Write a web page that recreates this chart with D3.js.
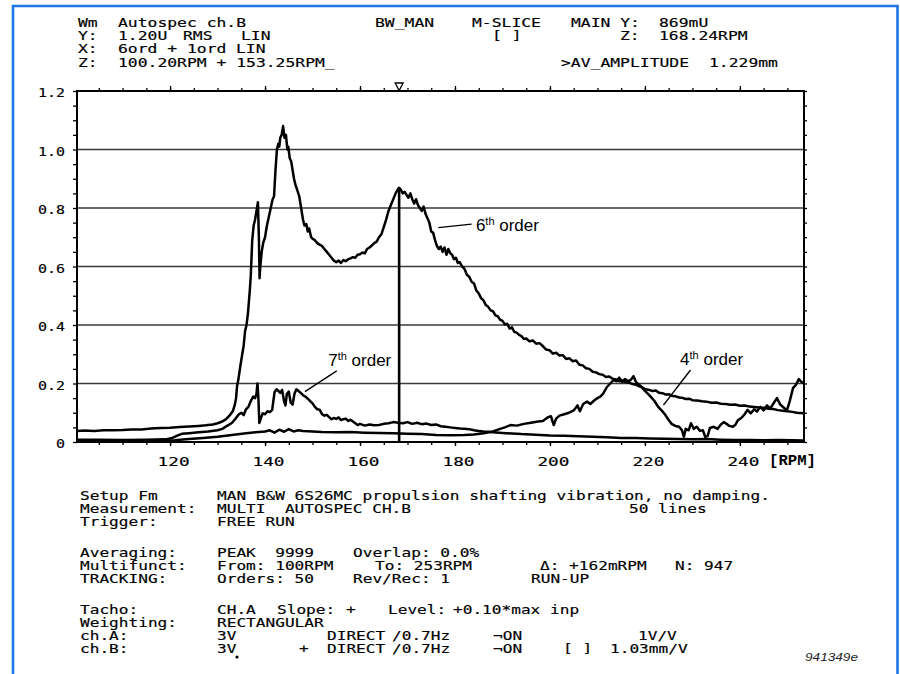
<!DOCTYPE html>
<html>
<head>
<meta charset="utf-8">
<script src="https://cdn.jsdelivr.net/npm/d3@7"></script>
<style>
  html, body { margin: 0; padding: 0; background: #fff; }
  svg { display: block; }
  .mono { font-family: 'DejaVu Sans Mono', monospace; fill: #000; stroke: #000; stroke-width: 0.15; white-space: pre; }
  .lbl { font-family: 'Liberation Sans', Arial, sans-serif; fill: #000; }
</style>
</head>
<body>
<svg id="chart" width="900" height="674"></svg>
<script>
/* DATA: [RPM, amplitude] */
const order6 = [
  [100.4,0.038],[102,0.039],[104,0.038],[106,0.040],[108,0.040],[110,0.041],[112,0.043],[114,0.043],
  [116,0.046],[118,0.048],[120,0.049],[122,0.051],[124,0.053],[126,0.055],[127.5,0.057],[129,0.060],
  [130,0.064],[131,0.070],[131.8,0.078],[132.5,0.090],[133.2,0.105],[133.6,0.125],[133.9,0.150],
  [134.1,0.190],[134.4,0.215],[134.8,0.260],[135.2,0.300],[135.5,0.330],[135.8,0.380],[136.1,0.400],
  [136.4,0.440],[136.8,0.520],[137.0,0.570],[137.3,0.690],[137.6,0.740],[137.9,0.760],[138.2,0.790],
  [138.5,0.820],[138.7,0.700],[138.85,0.560],[139.0,0.600],[139.3,0.650],[139.6,0.680],[140.0,0.700],
  [140.4,0.740],[140.8,0.770],[141.2,0.800],[141.6,0.830],[141.9,0.840],[142.2,0.930],[142.5,1.000],
  [142.8,1.020],[143.0,1.010],[143.2,1.040],[143.5,1.050],[143.8,1.080],[144.1,1.040],[144.4,1.050],
  [144.7,1.000],[144.9,1.010],[145.2,0.970],[145.5,0.960],[145.8,0.930],[146.1,0.900],[146.4,0.880],
  [146.8,0.860],[147.2,0.840],[147.6,0.800],[148.0,0.760],[148.3,0.740],[148.7,0.745],[149.0,0.720],
  [149.3,0.730],[149.7,0.700],[150.0,0.695],[150.5,0.690],[151.0,0.680],[151.5,0.675],[152.0,0.670],
  [152.5,0.660],[153.0,0.650],[153.5,0.640],[154.0,0.630],[154.5,0.620],[155.0,0.615],[155.5,0.620],
  [156.0,0.612],[156.5,0.622],[157.0,0.618],[157.5,0.625],[158.0,0.628],[158.5,0.632],[159.0,0.630],
  [159.5,0.640],[160.0,0.642],[160.5,0.648],[161.0,0.645],[161.5,0.660],[162.0,0.665],[162.5,0.672],
  [163.0,0.680],[163.5,0.685],[164.0,0.700],[164.5,0.710],[165.0,0.735],[165.5,0.760],[166.0,0.790],
  [166.5,0.810],[167.0,0.830],[167.5,0.850],[168.0,0.865],[168.24,0.869],[168.6,0.862],[169.0,0.850],
  [169.4,0.855],[169.8,0.845],[170.2,0.835],[170.6,0.850],[171.0,0.830],[171.4,0.815],[171.8,0.830],
  [172.2,0.810],[172.6,0.800],[173.0,0.790],[173.4,0.805],[173.8,0.780],[174.2,0.765],[174.6,0.750],
  [175.0,0.720],[175.4,0.715],[175.8,0.690],[176.2,0.670],[176.6,0.660],[177.0,0.668],[177.4,0.650],
  [177.8,0.665],[178.2,0.640],[178.6,0.660],[179.0,0.645],[179.4,0.640],[179.8,0.625],[180.2,0.630],
  [180.6,0.612],[181.0,0.615],[181.5,0.600],[182.0,0.592],[182.5,0.572],[183.0,0.565],[183.5,0.548],
  [184.0,0.542],[184.5,0.518],[185.0,0.508],[185.5,0.492],[186.0,0.484],[186.5,0.468],[187.0,0.462],
  [187.5,0.450],[188.0,0.447],[188.5,0.433],[189.0,0.430],[189.5,0.418],[190.0,0.414],[190.5,0.402],
  [191.0,0.404],[191.5,0.388],[192.0,0.392],[192.5,0.376],[193.0,0.374],[193.5,0.366],[194.0,0.362],
  [194.5,0.352],[195.0,0.354],[195.7,0.344],[196.4,0.347],[197.1,0.336],[197.8,0.338],[198.5,0.328],
  [199.2,0.316],[199.9,0.314],[200.6,0.302],[201.3,0.305],[202.0,0.296],[202.7,0.297],[203.4,0.284],
  [204.1,0.286],[204.8,0.276],[205.5,0.279],[206.2,0.264],[206.9,0.262],[207.6,0.252],[208.3,0.250],
  [209.0,0.240],[209.7,0.238],[210.4,0.232],[211.1,0.230],[211.8,0.222],[212.5,0.224],[213.2,0.216],
  [213.9,0.214],[214.6,0.208],[215.3,0.210],[216.0,0.204],[216.7,0.203],[217.4,0.198],[218.1,0.196],
  [218.8,0.190],[219.5,0.186],[220.2,0.180],[220.9,0.178],[221.6,0.174],[222.3,0.176],[223.0,0.168],
  [223.7,0.167],[224.4,0.162],[225.1,0.163],[225.8,0.157],[226.5,0.156],[227.2,0.152],[227.9,0.151],
  [228.6,0.147],[229.3,0.148],[230.0,0.143],[231,0.142],[232,0.139],[233,0.138],[234,0.134],[235,0.135],
  [236,0.131],[237,0.130],[238,0.127],[239,0.128],[240,0.124],[241,0.125],[242,0.121],[243,0.120],
  [244,0.118],[245,0.117],[246,0.114],[247,0.113],[248,0.109],[249,0.107],[250,0.105],[251,0.103],
  [252,0.100],[253.5,0.098]
];

const order7 = [
  [100.4,0.008],[105,0.008],[110,0.007],[115,0.008],[119,0.009],[120.5,0.014],[121.5,0.022],[122.5,0.028],
  [124,0.030],[126,0.033],[128,0.036],[130,0.040],[131,0.045],[132,0.055],[133,0.065],[133.8,0.080],
  [134.5,0.095],[135,0.100],[135.5,0.092],[136,0.112],[136.5,0.120],[137,0.140],[137.5,0.155],[137.9,0.150],
  [138.2,0.165],[138.4,0.200],[138.6,0.150],[138.8,0.065],[139.1,0.080],[139.5,0.098],[140,0.095],
  [140.5,0.105],[141,0.102],[141.5,0.110],[142,0.170],[142.4,0.180],[142.8,0.175],[143.2,0.168],
  [143.6,0.178],[144,0.140],[144.3,0.125],[144.6,0.165],[145,0.172],[145.4,0.135],[145.8,0.128],
  [146.2,0.165],[146.6,0.180],[147,0.175],[147.5,0.168],[148,0.160],[148.5,0.155],[149,0.148],
  [149.5,0.140],[150,0.132],[150.5,0.120],[151,0.112],[151.5,0.110],[152,0.095],[152.5,0.090],
  [153,0.093],[153.5,0.085],[154,0.078],[154.5,0.082],[155,0.079],[155.5,0.084],[156,0.075],[156.5,0.078],
  [157,0.080],[157.5,0.072],[158,0.076],[158.5,0.070],[159,0.064],[159.5,0.058],[160,0.062],[161,0.056],
  [162,0.060],[163,0.057],[164,0.058],[165,0.062],[166,0.064],[167,0.068],[168,0.066],[169,0.064],
  [170,0.068],[171,0.062],[172,0.066],[173,0.061],[174,0.063],[175,0.058],[176,0.060],[177,0.054],
  [178,0.052],[179,0.050],[180,0.048],[181,0.046],[182,0.045],[183,0.044],[184,0.040],[185,0.038],
  [186,0.036],[187,0.035],[188,0.033],[190,0.031],[192,0.029],[194,0.027],[196,0.026],[198,0.024],
  [200,0.022],[203,0.021],[206,0.020],[209,0.018],[212,0.016],[215,0.014],[218,0.014],[221,0.012],
  [224,0.011],[227,0.010],[230,0.009],[233,0.010],[236,0.008],[239,0.007],[242,0.007],[245,0.006],
  [248,0.007],[251,0.006],[253.5,0.005]
];

const order4 = [
  [100.4,0.003],[110,0.003],[118,0.004],[121,0.006],[124,0.010],[127,0.014],[130,0.018],[133,0.024],
  [136,0.030],[138,0.033],[140,0.036],[141,0.040],[142,0.032],[143,0.042],[144,0.035],[145,0.044],
  [146,0.036],[147,0.040],[148,0.038],[150,0.036],[152,0.034],[155,0.033],[158,0.034],[161,0.032],
  [164,0.031],[167,0.030],[170,0.028],[173,0.027],[176,0.024],[179,0.023],[182,0.024],[184,0.026],
  [186,0.030],[188,0.036],[189.5,0.045],[190.5,0.050],[191.7,0.058],[193,0.056],[194.5,0.062],
  [196,0.066],[197.5,0.070],[198.5,0.072],[199.5,0.084],[200.2,0.088],[200.8,0.058],[201.3,0.080],
  [202,0.090],[203,0.095],[204,0.100],[205,0.108],[205.8,0.125],[206.3,0.105],[207,0.130],[207.8,0.138],
  [208.5,0.130],[209.3,0.142],[210,0.150],[210.6,0.155],[211.2,0.165],[212,0.188],[212.7,0.200],
  [213.4,0.212],[214,0.208],[214.6,0.220],[215.2,0.205],[215.8,0.215],[216.4,0.208],[217,0.212],
  [217.6,0.225],[218.1,0.205],[218.6,0.198],[219.2,0.190],[220,0.175],[220.6,0.165],[221.2,0.155],
  [222,0.140],[222.8,0.120],[223.5,0.108],[224.2,0.095],[225,0.075],[225.6,0.062],[226.4,0.055],
  [227.2,0.052],[227.8,0.040],[228.2,0.018],[228.6,0.045],[229.2,0.040],[229.7,0.064],[230.3,0.045],
  [230.9,0.052],[231.6,0.038],[232.2,0.040],[232.7,0.018],[233.2,0.020],[233.7,0.048],[234.5,0.052],
  [235.3,0.045],[236,0.060],[236.6,0.068],[237.2,0.062],[237.8,0.055],[238.5,0.052],[239,0.058],
  [239.6,0.075],[240.3,0.082],[241,0.095],[241.6,0.110],[242.3,0.098],[243,0.112],[243.6,0.104],
  [244.3,0.120],[245,0.108],[245.7,0.125],[246.4,0.115],[247.2,0.135],[247.8,0.150],[248.5,0.128],
  [249.2,0.118],[249.9,0.108],[250.5,0.140],[251.2,0.185],[251.8,0.195],[252.4,0.215],[253,0.205],
  [253.5,0.200]
];

const xTicks = [120, 140, 160, 180, 200, 220, 240];
const yTicks = [0, 0.2, 0.4, 0.6, 0.8, 1.0, 1.2];
const cursor = { rpm: 168.24, amp: 0.869 };

// order labels: text anchor and pointer (data units)
const orderNotes = [
  { n: '6', text: [184.4, 0.721], from: [183.5, 0.745], to: [176.5, 0.733] },
  { n: '7', text: [153.3, 0.260], from: [155.1, 0.243], to: [148.4, 0.172] },
  { n: '4', text: [227.4, 0.263], from: [229.6, 0.246], to: [223.9, 0.126] }
];

// analyser header and setup print-out (column x in px)
const headerRows = [
  [26.7, [[78,'Wm'],[118,'Autospec ch.B'],[375,'BW_MAN'],[472,'M-SLICE'],[571,'MAIN Y:'],[659,'869mU']]],
  [40,   [[78,'Y:'],[118,'1.20U'],[183,'RMS'],[241,'LIN'],[492,'[ ]'],[620,'Z:'],[659,'168.24RPM']]],
  [53.3, [[78,'X:'],[118,'6ord + 1ord'],[236,'LIN']]],
  [66.7, [[78,'Z:'],[118,'100.20RPM + 153.25RPM_'],[561,'>AV_AMPLITUDE'],[709,'1.229mm']]]
];
const setupRows = [
  [499.5, [[80,'Setup Fm'],[217,'MAN B&W 6S26MC propulsion shafting vibration, no damping.']]],
  [512.5, [[80,'Measurement:'],[217,'MULTI  AUTOSPEC CH.B'],[629,'50 lines']]],
  [525.5, [[80,'Trigger:'],[217,'FREE RUN']]],
  [556.5, [[80,'Averaging:'],[217,'PEAK  9999'],[353,'Overlap: 0.0%']]],
  [569.5, [[80,'Multifunct:'],[217,'From: 100RPM'],[375,'To: 253RPM'],[540,'\u0394: +162mRPM'],[675,'N: 947']]],
  [582.5, [[80,'TRACKING:'],[217,'Orders: 50'],[353,'Rev/Rec: 1'],[531,'RUN-UP']]],
  [614,   [[80,'Tacho:'],[217,'CH.A'],[277,'Slope:'],[346,'+'],[388,'Level:'],[453,'+0.10*max inp']]],
  [627,   [[80,'Weighting:'],[217,'RECTANGULAR']]],
  [640,   [[80,'ch.A:'],[217,'3V'],[327,'DIRECT'],[392,'/0.7Hz'],[493,'\u00acON'],[638,'1V/V']]],
  [653,   [[80,'ch.B:'],[217,'3V'],[299,'+'],[327,'DIRECT'],[392,'/0.7Hz'],[493,'\u00acON'],[563,'[ ]'],[610,'1.03mm/V']]]
];

/* LAYOUT */
const margin = { top: 91, right: 96, bottom: 232, left: 77 };
const width = 900 - margin.left - margin.right;
const height = 674 - margin.top - margin.bottom;

const x = d3.scaleLinear().domain([100.4, 253.5]).range([0, width]);
const y = d3.scaleLinear().domain([0, 1.2]).range([height, 0]);

const svg = d3.select('#chart');

// blue page frame
svg.append('path')
  .attr('d', 'M13,690 V6 H897.5 V690')
  .attr('fill', 'none')
  .attr('stroke', '#1f74e8')
  .attr('stroke-width', 2.6);

function mono(sel, px, py, s, cw, size) {
  return sel.append('text')
    .attr('class', 'mono')
    .attr('x', px).attr('y', py)
    .attr('font-size', size)
    .attr('textLength', s.length * cw)
    .attr('lengthAdjust', 'spacingAndGlyphs')
    .text(s);
}

headerRows.forEach(function(row) {
  row[1].forEach(function(c) { mono(svg, c[0], row[0], c[1], 9.85, 11.5); });
});
setupRows.forEach(function(row) {
  row[1].forEach(function(c) { mono(svg, c[0], row[0], c[1], 9.7, 12); });
});
// the odd dot under ch.B "3V"
svg.append('circle').attr('cx', 237).attr('cy', 657).attr('r', 1.6).attr('fill', '#000');

svg.append('text')
  .attr('class', 'lbl')
  .attr('x', 805).attr('y', 661)
  .attr('font-size', 11.5)
  .attr('font-style', 'italic')
  .attr('textLength', 53)
  .attr('lengthAdjust', 'spacingAndGlyphs')
  .style('fill', '#222')
  .text('941349e');

let g = svg.append('g').attr('transform', 'translate(' + margin.left + ',' + margin.top + ')');

// grid lines
g.selectAll('.grid')
  .data(yTicks.filter(function(d) { return d > 0 && d < 1.2; }))
  .enter().append('line')
  .attr('class', 'grid')
  .attr('x1', 0).attr('x2', width)
  .attr('y1', function(d) { return y(d); })
  .attr('y2', function(d) { return y(d); })
  .attr('stroke', '#3a3a3a')
  .attr('stroke-width', 1.3);

// ticks all round
const minorX = d3.range(105, 253, 5);
const minorY = d3.range(0, 1.2001, 0.05);

function tickOnly(axis, size, values, tr) {
  let a = g.append('g').attr('transform', tr)
    .call(axis.tickValues(values).tickSize(size).tickFormat(''));
  a.select('.domain').remove();
  a.selectAll('line').attr('stroke-width', 1.3);
  return a;
}
tickOnly(d3.axisTop(x), 3, minorX, 'translate(0,0)');
tickOnly(d3.axisTop(x), 5, xTicks, 'translate(0,0)');
tickOnly(d3.axisBottom(x), 3, minorX, 'translate(0,' + height + ')');
tickOnly(d3.axisBottom(x), 4, xTicks, 'translate(0,' + height + ')');
tickOnly(d3.axisLeft(y), 4, minorY, 'translate(0,0)');
tickOnly(d3.axisRight(y), 3, minorY, 'translate(' + width + ',0)');

// tick labels
let xLab = g.append('g').attr('transform', 'translate(0,' + height + ')')
  .call(d3.axisBottom(x).tickValues(xTicks).tickSize(0).tickFormat(d3.format('d')));
xLab.select('.domain').remove();
xLab.selectAll('text')
  .attr('class', 'mono')
  .attr('y', 24).attr('dy', 0).attr('x', 3)
  .attr('font-size', 12.5)
  .attr('textLength', 32)
  .attr('lengthAdjust', 'spacingAndGlyphs');

let yLab = g.append('g')
  .call(d3.axisLeft(y).tickValues(yTicks).tickSize(0).tickPadding(12)
    .tickFormat(function(d) { return d === 0 ? '0' : d3.format('.1f')(d); }));
yLab.select('.domain').remove();
yLab.selectAll('text')
  .attr('class', 'mono')
  .attr('dy', 5.5)
  .attr('font-size', 12)
  .attr('textLength', function(d) { return d === 0 ? 9 : 27; })
  .attr('lengthAdjust', 'spacingAndGlyphs');

g.append('text')
  .attr('x', width - 35).attr('y', height + 23)
  .attr('font-family', "'Liberation Mono', 'Courier New', monospace")
  .attr('font-weight', 'bold')
  .attr('font-size', 14)
  .attr('textLength', 47)
  .attr('lengthAdjust', 'spacingAndGlyphs')
  .text('[RPM]');

// curves
let line = d3.line()
  .x(function(d) { return x(d[0]); })
  .y(function(d) { return y(d[1]); });

[order4, order7, order6].forEach(function(series) {
  g.append('path')
    .datum(series)
    .attr('d', line)
    .attr('fill', 'none')
    .attr('stroke', '#000')
    .attr('stroke-width', 2.5)
    .attr('stroke-linejoin', 'round');
});

// cursor
g.append('line')
  .attr('x1', x(cursor.rpm)).attr('x2', x(cursor.rpm))
  .attr('y1', y(cursor.amp)).attr('y2', y(0))
  .attr('stroke', '#000')
  .attr('stroke-width', 2.6);
g.append('path')
  .attr('d', 'M' + (x(cursor.rpm) - 4) + ',-8 H' + (x(cursor.rpm) + 4) + ' L' + x(cursor.rpm) + ',-0.5 Z')
  .attr('fill', '#fff')
  .attr('stroke', '#000')
  .attr('stroke-width', 1.3);

// frame
g.append('rect')
  .attr('width', width).attr('height', height)
  .attr('fill', 'none')
  .attr('stroke', '#000')
  .attr('stroke-width', 2);

// order annotations
orderNotes.forEach(function(n) {
  g.append('line')
    .attr('x1', x(n.from[0])).attr('y1', y(n.from[1]))
    .attr('x2', x(n.to[0])).attr('y2', y(n.to[1]))
    .attr('stroke', '#000')
    .attr('stroke-width', 1.4);
  let t = g.append('text')
    .attr('class', 'lbl')
    .attr('x', x(n.text[0])).attr('y', y(n.text[1]))
    .attr('font-size', 17);
  t.append('tspan').text(n.n);
  t.append('tspan').attr('font-size', 11).attr('dy', -6).text('th');
  t.append('tspan').attr('dy', 6).text(' order');
});
</script>
</body>
</html>
